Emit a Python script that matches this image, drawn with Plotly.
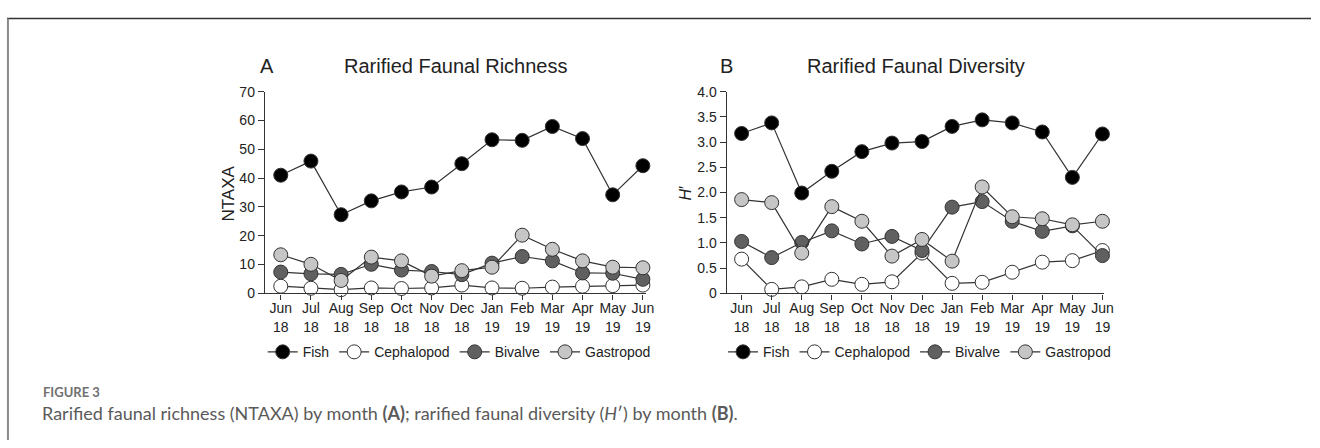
import plotly.graph_objects as go

W, H = 1320, 448

months = ["Jun<br>18", "Jul<br>18", "Aug<br>18", "Sep<br>18", "Oct<br>18", "Nov<br>18", "Dec<br>18",
          "Jan<br>19", "Feb<br>19", "Mar<br>19", "Apr<br>19", "May<br>19", "Jun<br>19"]
series_names = ["Fish", "Cephalopod", "Bivalve", "Gastropod"]

# Panel A: rarified faunal richness (NTAXA)
rich_fish = [41.0, 45.9, 27.3, 32.1, 35.2, 36.9, 45.0, 53.3, 53.1, 57.9, 53.7, 34.2, 44.3]
rich_ceph = [2.5, 1.8, 1.3, 1.9, 1.7, 1.9, 2.9, 1.9, 1.8, 2.2, 2.5, 2.7, 2.9]
rich_biv = [7.4, 6.8, 6.6, 10.1, 8.1, 7.6, 6.5, 10.5, 12.8, 11.3, 7.1, 7.0, 4.9]
rich_gast = [13.4, 10.1, 4.5, 12.6, 11.3, 6.0, 7.9, 9.1, 20.2, 15.3, 11.3, 9.1, 8.9]

# Panel B: rarified faunal diversity (H')
div_fish = [3.17, 3.38, 1.99, 2.42, 2.81, 2.98, 3.01, 3.31, 3.44, 3.38, 3.20, 2.30, 3.16]
div_ceph = [0.68, 0.08, 0.13, 0.28, 0.18, 0.23, 0.80, 0.20, 0.22, 0.42, 0.62, 0.65, 0.85]
div_biv = [1.03, 0.71, 1.01, 1.24, 0.98, 1.13, 0.85, 1.71, 1.82, 1.43, 1.23, 1.34, 0.75]
div_gast = [1.86, 1.80, 0.80, 1.72, 1.43, 0.74, 1.07, 0.64, 2.11, 1.52, 1.48, 1.36, 1.43]

richness_ticks = [0, 10, 20, 30, 40, 50, 60, 70]
richness_ticktext = ["0", "10", "20", "30", "40", "50", "60", "70"]
diversity_ticks = [0, 0.5, 1.0, 1.5, 2.0, 2.5, 3.0, 3.5, 4.0]
diversity_ticktext = ["0", "0.5", "1.0", "1.5", "2.0", "2.5", "3.0", "3.5", "4.0"]

fills = {"Fish": "#000000", "Cephalopod": "#ffffff", "Bivalve": "#606060", "Gastropod": "#c6c6c6"}
FONT = "Liberation Sans, Arial, sans-serif"
CAPFONT = "Lato, Open Sans, sans-serif"

fig = go.Figure()
xs = list(range(len(months)))

panelA = {"Fish": rich_fish, "Cephalopod": rich_ceph, "Bivalve": rich_biv, "Gastropod": rich_gast}
panelB = {"Fish": div_fish, "Cephalopod": div_ceph, "Bivalve": div_biv, "Gastropod": div_gast}

for name in series_names:
    fig.add_trace(go.Scatter(
        x=xs, y=panelA[name], name=name, mode="lines+markers",
        xaxis="x", yaxis="y", legend="legend", cliponaxis=False,
        line=dict(color="#333333", width=1.2),
        marker=dict(size=14, color=fills[name], line=dict(color="#333333", width=1)),
    ))
for name in series_names:
    fig.add_trace(go.Scatter(
        x=xs, y=panelB[name], name=name, mode="lines+markers",
        xaxis="x2", yaxis="y2", legend="legend2", cliponaxis=False,
        line=dict(color="#333333", width=1.2),
        marker=dict(size=14, color=fills[name], line=dict(color="#333333", width=1)),
    ))

def px(x):
    return x / W

def py(y):
    return 1 - y / H

# pixel geometry of panels
A_left, A_right = 266.7, 650.0
B_left, B_right = 731.7, 1112.0
y_top, y_bot = 86.7, 296.0
A_first, A_step = 282.7, (647.3 - 282.7) / 12
B_first, B_step = 746.7, (1110.0 - 746.7) / 12

common_x = dict(
    tickmode="array", tickvals=xs, ticktext=months, showline=True, linecolor="#333333",
    linewidth=1.3, ticks="outside", ticklen=5, tickcolor="#333333", tickwidth=1,
    showgrid=False, zeroline=False, tickfont=dict(family=FONT, size=14, color="#222222"),
    ticklabelstandoff=-3,
)
common_y = dict(
    showline=True, linecolor="#333333", linewidth=1.3, ticks="outside", ticklen=6,
    tickcolor="#333333", tickwidth=1, showgrid=False, zeroline=False,
    tickfont=dict(family=FONT, size=14, color="#222222"),
)

fig.update_layout(
    width=W, height=H, autosize=False,
    margin=dict(l=0, r=0, t=0, b=0, pad=0),
    paper_bgcolor="white", plot_bgcolor="white",
    xaxis=dict(common_x, domain=[px(A_left), px(A_right)], anchor="y",
               range=[(A_left - A_first) / A_step, (A_right - A_first) / A_step]),
    yaxis=dict(common_y, domain=[py(y_bot), py(y_top)], anchor="x", range=[0, 70],
               tickmode="array", tickvals=richness_ticks, ticktext=richness_ticktext),
    xaxis2=dict(common_x, domain=[px(B_left), px(B_right)], anchor="y2",
                range=[(B_left - B_first) / B_step, (B_right - B_first) / B_step]),
    yaxis2=dict(common_y, domain=[py(y_bot), py(y_top)], anchor="x2", range=[0, 4.0],
                tickmode="array", tickvals=diversity_ticks, ticktext=diversity_ticktext),
    legend=dict(orientation="h", x=px((A_left + A_right) / 2 + 4), xanchor="center",
                y=py(357), yanchor="middle", font=dict(family=FONT, size=14, color="#222222"),
                bgcolor="rgba(0,0,0,0)", itemclick=False, tracegroupgap=0),
    legend2=dict(orientation="h", x=px((B_left + B_right) / 2 + 4), xanchor="center",
                 y=py(357), yanchor="middle", font=dict(family=FONT, size=14, color="#222222"),
                 bgcolor="rgba(0,0,0,0)", itemclick=False, tracegroupgap=0),
    showlegend=True,
)

ann = []
# panel titles and letters
ann.append(dict(text="A", x=px(268.5), y=py(60), xref="paper", yref="paper", showarrow=False,
                xanchor="center", yanchor="middle", font=dict(family=FONT, size=20, color="#222222")))
ann.append(dict(text="Rarified Faunal Richness", x=px(459), y=py(60), xref="paper", yref="paper",
                showarrow=False, xanchor="center", yanchor="middle",
                font=dict(family=FONT, size=20, color="#222222")))
ann.append(dict(text="B", x=px(731.5), y=py(60), xref="paper", yref="paper", showarrow=False,
                xanchor="center", yanchor="middle", font=dict(family=FONT, size=20, color="#222222")))
ann.append(dict(text="Rarified Faunal Diversity", x=px(922), y=py(60), xref="paper", yref="paper",
                showarrow=False, xanchor="center", yanchor="middle",
                font=dict(family=FONT, size=20, color="#222222")))
# axis titles
ann.append(dict(text="NTAXA", x=px(230), y=py(192), xref="paper", yref="paper", showarrow=False,
                textangle=-90, xanchor="center", yanchor="middle",
                font=dict(family=FONT, size=17, color="#222222")))
ann.append(dict(text="<i>H</i>′", x=px(690), y=py(192), xref="paper", yref="paper", showarrow=False,
                textangle=-90, xanchor="center", yanchor="middle",
                font=dict(family=FONT, size=16, color="#222222")))
# caption
ann.append(dict(text="<b>FIGURE 3</b>", x=px(41), y=py(398), xref="paper", yref="paper",
                showarrow=False, xanchor="left", yanchor="middle",
                font=dict(family=CAPFONT, size=13, color="#707070")))
ann.append(dict(text="Rarified faunal richness (NTAXA) by month <b>(A)</b>; rarified faunal diversity (<i>H</i>′) by month <b>(B)</b>.",
                x=px(40), y=py(420), xref="paper", yref="paper", showarrow=False,
                xanchor="left", yanchor="middle",
                font=dict(family=CAPFONT, size=18, color="#5a5a5a")))
fig.update_layout(annotations=ann)

# figure frame (top and left rules)
fig.add_shape(type="line", xref="paper", yref="paper", x0=px(7), x1=1, y0=py(11), y1=py(11),
              line=dict(color="#333333", width=1.5))
fig.add_shape(type="line", xref="paper", yref="paper", x0=px(8), x1=px(8), y0=py(11), y1=0,
              line=dict(color="#8a8a8a", width=2))

fig.write_html("out.html")
